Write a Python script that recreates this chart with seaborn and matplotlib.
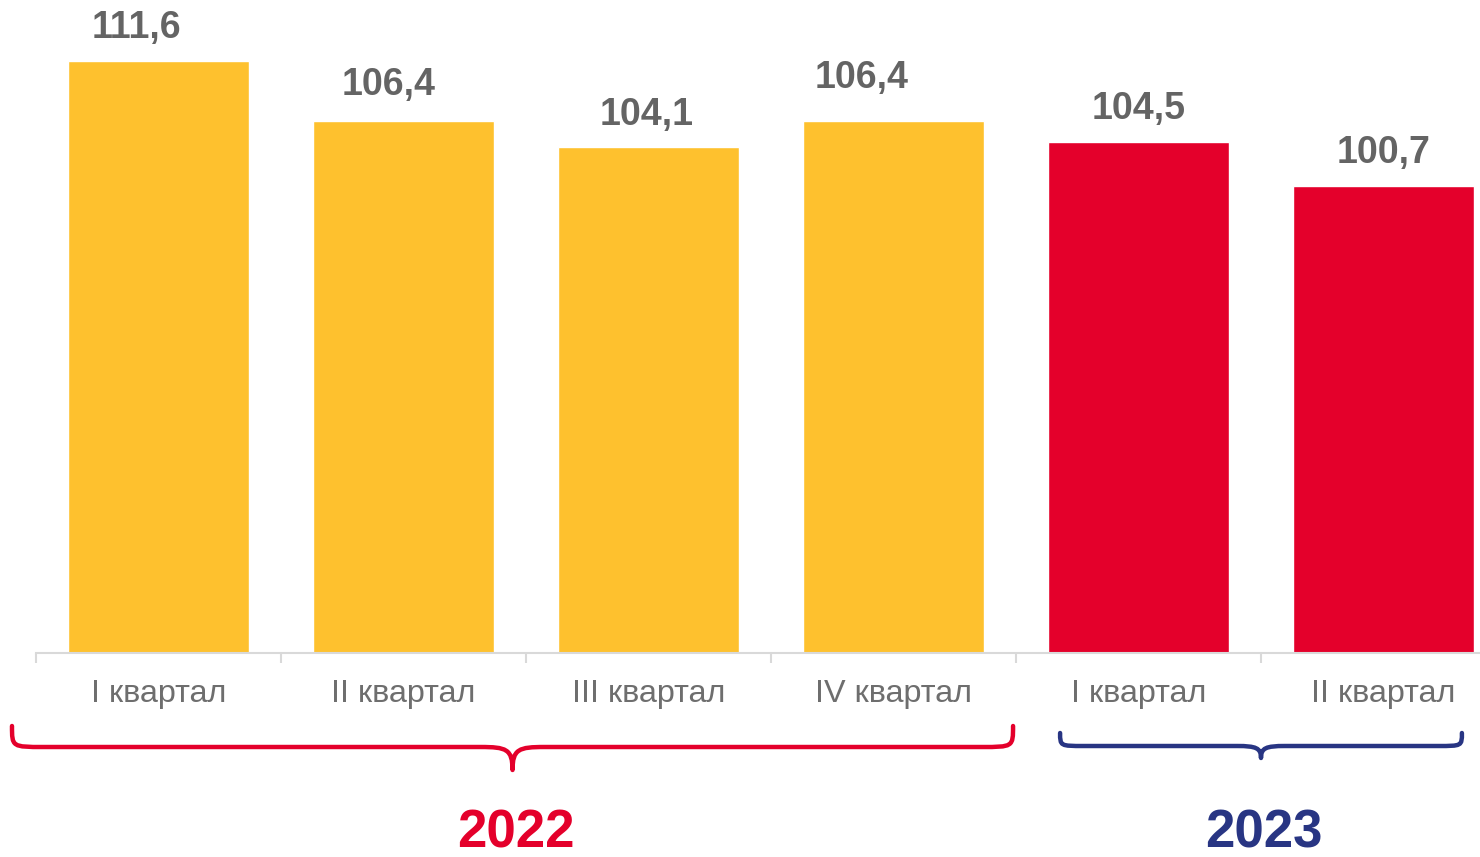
import matplotlib
matplotlib.use("Agg")
import matplotlib.pyplot as plt
import seaborn as sns
import pandas as pd
from matplotlib.path import Path
from matplotlib.patches import PathPatch

# ---- data ----
keys = ["2022 I", "2022 II", "2022 III", "2022 IV", "2023 I", "2023 II"]
quarter_labels = ["I квартал", "II квартал", "III квартал", "IV квартал", "I квартал", "II квартал"]
values = [111.6, 106.4, 104.1, 106.4, 104.5, 100.7]
years = ["2022", "2022", "2022", "2022", "2023", "2023"]
year_labels = ["2022", "2023"]

# ---- styles ----
bar_colors = {"2022": "#FEC12E", "2023": "#E4002B"}
brace_colors = {"2022": "#E4002B", "2023": "#283583"}
# brace spans in category units (left, right) and label offsets (points)
brace_spans = {"2022": (-0.598, 3.488), "2023": (3.68, 5.32)}
label_dx = [-16, -11, -1, -23, 0, 0]
label_dy = [11, 13, 10, 18, 11, 11]

sns.set_theme(style="white")
plt.rcParams["font.family"] = ["Liberation Sans", "DejaVu Sans"]

W, H, DPI = 1480, 857, 100
fig = plt.figure(figsize=(W / DPI, H / DPI), dpi=DPI)
ax = fig.add_axes([36 / W, 204 / H, 1470 / W, 631 / H])

df = pd.DataFrame({"key": keys, "value": values, "year": years})
sns.barplot(data=df, x="key", y="value", hue="year", palette=bar_colors,
            order=keys, width=0.735, dodge=False, legend=False, ax=ax,
            saturation=1)

ax.set_xlim(-0.5, len(keys) - 0.5)
ax.set_ylim(60, 115)
ax.set_xlabel("")
ax.set_ylabel("")
ax.set_yticks([])
for s in ["top", "right", "left"]:
    ax.spines[s].set_visible(False)
ax.spines["bottom"].set_color("#D9D9D9")
ax.spines["bottom"].set_linewidth(1.5)

ax.set_xticks(range(len(keys)))
ax.set_xticklabels(quarter_labels, fontsize=23.3, color="#6E6E6E")
ax.tick_params(axis="x", which="major", length=0, pad=19)
ax.set_xticks([i - 0.5 for i in range(len(keys) + 1)], minor=True)
ax.tick_params(axis="x", which="minor", length=7.5, width=1.5, color="#D9D9D9",
               bottom=True)

for i, v in enumerate(values):
    ax.annotate(f"{v:.1f}".replace(".", ","), xy=(i, v), xytext=(label_dx[i], label_dy[i]),
                textcoords="offset points", ha="center", va="bottom",
                fontsize=27, fontweight="bold", color="#646464")

# ---- braces ----
fig.canvas.draw()
to_fig = ax.transData + fig.transFigure.inverted()


def brace(x0, x1, ytop, ymid, ytip, r, color):
    # x from data, y in pixels from top
    xl = to_fig.transform((x0, 0))[0] * W
    xr = to_fig.transform((x1, 0))[0] * W
    xc = (xl + xr) / 2
    pts = [
        (xl, ytop), (xl, ymid), (xl, ymid), (xl + r, ymid),
        (xc - r, ymid),
        (xc - r * 0.2, ymid), (xc, ymid + 2), (xc, ytip),
        (xc, ymid + 2), (xc + r * 0.2, ymid), (xc + r, ymid),
        (xr - r, ymid),
        (xr, ymid), (xr, ymid), (xr, ytop),
    ]
    codes = [Path.MOVETO, Path.CURVE4, Path.CURVE4, Path.CURVE4,
             Path.LINETO,
             Path.CURVE4, Path.CURVE4, Path.CURVE4,
             Path.CURVE4, Path.CURVE4, Path.CURVE4,
             Path.LINETO,
             Path.CURVE4, Path.CURVE4, Path.CURVE4]
    verts = [(x / W, 1 - y / H) for x, y in pts]
    fig.add_artist(PathPatch(Path(verts, codes), transform=fig.transFigure,
                             fill=False, edgecolor=color, linewidth=3.2,
                             capstyle="round", joinstyle="round"))
    return xc


xc22 = brace(*brace_spans["2022"], 726, 747, 770, 32, brace_colors["2022"])
xc23 = brace(*brace_spans["2023"], 733, 746, 758, 24, brace_colors["2023"])

for yl, xc in zip(year_labels, [xc22, xc23]):
    fig.text(xc / W + 3 / W, 1 - 833 / H, yl, ha="center", va="center",
             fontsize=38, fontweight="bold", color=brace_colors[yl])

fig.savefig("out.png", dpi=DPI)
